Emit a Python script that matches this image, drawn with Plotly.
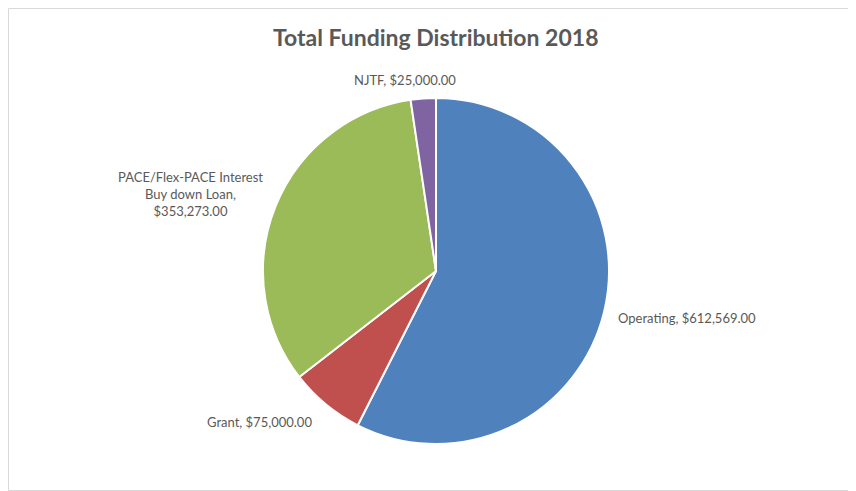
import plotly.graph_objects as go

categories = ["Operating", "Grant", "PACE/Flex-PACE Interest Buy down Loan", "NJTF"]
values = [612569.00, 75000.00, 353273.00, 25000.00]
colors = ["#4F81BD", "#C0504D", "#9BBB59", "#8064A2"]
label_text = [
    "Operating, $612,569.00",
    "Grant, $75,000.00",
    "PACE/Flex-PACE Interest<br>Buy down Loan,<br>$353,273.00",
    "NJTF, $25,000.00",
]
# page offset of the plot div (body margin)
OFF = 8
# label anchor positions in page pixels (x, y from top)
label_pos = [(687, 318), (260, 422), (190, 194), (405, 80)]

W, H = 856, 491


def px(x):
    return (x - OFF) / W


def py(y):
    return 1 - (y - OFF) / H


fig = go.Figure()
fig.add_trace(go.Pie(
    labels=categories, values=values, sort=False, direction="clockwise", rotation=0,
    marker=dict(colors=colors, line=dict(color="white", width=2)),
    textinfo="none", hoverinfo="label+value", showlegend=False,
    domain=dict(x=[px(263), px(609)], y=[py(444), py(98)]),
))
for t, (x, y) in zip(label_text, label_pos):
    fig.add_annotation(x=px(x), y=py(y), xref="paper", yref="paper", text=t,
                       showarrow=False, xanchor="center", yanchor="middle", align="center",
                       font=dict(family="Lato, Liberation Sans, Arial", size=13, color="#595959"))
fig.add_annotation(x=px(435), y=py(37), xref="paper", yref="paper",
                   text="<b>Total Funding Distribution 2018</b>", showarrow=False,
                   xanchor="center", yanchor="middle",
                   font=dict(family="Lato, Liberation Sans, Arial", size=23, color="#595959"))
fig.add_shape(type="rect", xref="paper", yref="paper", x0=0.5 / W, x1=1 - 0.5 / W,
              y0=py(490.5), y1=1 - 0.5 / H, line=dict(color="#D9D9D9", width=1))
fig.update_layout(width=W, height=H, margin=dict(l=0, r=0, t=0, b=0),
                  paper_bgcolor="white", plot_bgcolor="white")
fig.write_html("out.html")
